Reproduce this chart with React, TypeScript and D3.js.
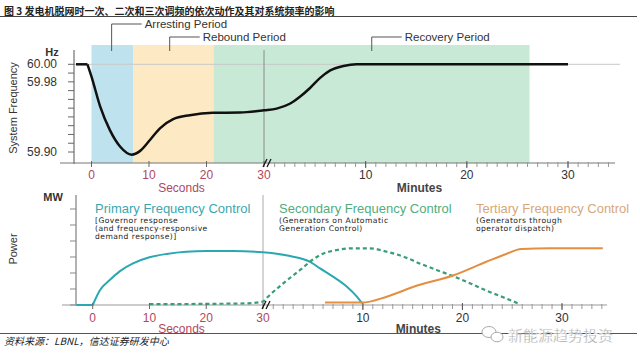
import * as d3 from "d3";

// ---- data ----
// frequency (Hz): seconds part then minutes part
const freqLead: [number, number][] = [[-2.7, 60], [-0.7, 60]];
const freqSec: [number, number][] = [
  [-0.7, 60], [0, 59.986], [1.5, 59.952], [3.2, 59.925], [5, 59.906], [7, 59.897],
  [8.4, 59.901], [10.2, 59.914], [11.9, 59.927], [14.2, 59.9375], [17.1, 59.942],
  [21.1, 59.9447], [25.8, 59.945], [30, 59.9475],
];
const freqMin: [number, number][] = [
  [1.2, 59.9495], [2.5, 59.955], [3.5, 59.963], [4.5, 59.973], [5.5, 59.9845],
  [6.5, 59.993], [7.8, 59.998], [9.1, 60], [30, 60],
];

// power (arbitrary MW units)
const primaryLead: [number, number][] = [[-2.9, 0], [0, 0]];
const primarySec: [number, number][] = [
  [0, 0], [1.3, 0.94], [3, 1.56], [4.8, 2.12], [7.1, 2.6], [10, 2.98], [13, 3.19],
  [16.5, 3.33], [20, 3.37], [24.7, 3.37], [30, 3.29],
];
const primaryMin: [number, number][] = [
  [2.7, 3.06], [4.7, 2.7], [5.7, 2.29], [7, 1.77], [8.4, 1.14], [9.4, 0.52], [9.9, 0.12],
];
const secondarySec: [number, number][] = [[10, 0.05], [20, 0.07], [27, 0.1], [30, 0.22]];
const secondaryMin: [number, number][] = [
  [0.3, 0.42], [2, 1.35], [3.7, 2.19], [5, 2.85], [5.7, 3.12], [7.4, 3.44], [9, 3.54],
  [10.7, 3.54], [12.4, 3.33], [14.1, 3.02], [15.7, 2.6], [17.4, 2.19], [19.2, 1.77],
  [20.8, 1.35], [22.4, 0.9], [24.1, 0.48], [25.8, 0.05],
];
const tertiaryMin: [number, number][] = [
  [6.2, 0.15], [9.9, 0.15], [12.4, 0.52], [15.1, 1.14], [19.2, 1.875], [22.4, 2.7],
  [24.4, 3.19], [25.9, 3.5], [28.8, 3.54], [34.1, 3.54],
];

// periods
const periodLabels = ["Arresting Period", "Rebound Period", "Recovery Period"];
const periodStart = [0, 7.3, 21.2];
const periodEnd = [7.3, 21.2, 26.2];
const periodEndUnit = ["s", "s", "m"];
const periodLeader = [3.5, 13.6, 10.6];
const periodLeaderUnit = ["s", "s", "m"];
const periodColors = ["#bfe3ee", "#fdeac4", "#c9e9d7"];

const secTicks = [0, 10, 20, 30];
const minTicks = [10, 20, 30];
const minMinor = d3.range(1, 35);
const freqTicks = d3.range(0, 11).map((i) => 59.9 + i * 0.01);
const freqLabels = [60.0, 59.98, 59.9];
const powerTicks = d3.range(0, 7);

const controls = [
  { title: "Primary Frequency Control", lines: ["[Governor response", "(and frequency-responsive", "demand response)]"], color: "#3aa7b0", x: 95 },
  { title: "Secondary Frequency Control", lines: ["(Generators on Automatic", "Generation Control)"], color: "#52ad7c", x: 279 },
  { title: "Tertiary Frequency Control", lines: ["(Generators through", "operator dispatch)"], color: "#d9a67c", x: 476 },
];

const FONT = "'Liberation Sans', Arial, sans-serif";
const CJK = "'Noto Sans CJK SC', sans-serif";
const SEC_RED = "#b0475e";

type Pt = [number, number];

export default function App() {
  // top panel scales
  const tSec = d3.scaleLinear().domain([0, 30]).range([91.5, 264]);
  const tMin = d3.scaleLinear().domain([0, 30]).range([264.5, 568]);
  const yF = d3.scaleLinear().domain([59.9, 60.0]).range([152, 64.3]);
  // bottom panel scales
  const bSec = d3.scaleLinear().domain([0, 30]).range([92.7, 263]);
  const bMin = d3.scaleLinear().domain([0, 30]).range([263.3, 562]);
  const yP = d3.scaleLinear().domain([0, 6]).range([305, 209]);

  const topAxisY = 163;
  const botAxisY = 305;

  const mkPath = (sx: d3.ScaleLinear<number, number>, mx: d3.ScaleLinear<number, number>, y: d3.ScaleLinear<number, number>, sec: Pt[], min: Pt[], curve: d3.CurveFactory = d3.curveMonotoneX) => {
    const pts: Pt[] = [
      ...sec.map((d) => [sx(d[0]), y(d[1])] as Pt),
      ...min.map((d) => [mx(d[0]), y(d[1])] as Pt),
    ];
    return d3.line().curve(curve)(pts) || "";
  };

  const freqPath = mkPath(tSec, tMin, yF, freqSec, freqMin);
  const freqLeadPath = mkPath(tSec, tMin, yF, freqLead, [], d3.curveLinear);
  const primPath = mkPath(bSec, bMin, yP, primarySec, primaryMin);
  const primLeadPath = mkPath(bSec, bMin, yP, primaryLead, [], d3.curveLinear);
  const secPath = mkPath(bSec, bMin, yP, secondarySec, secondaryMin);
  const terPath = mkPath(bSec, bMin, yP, [], tertiaryMin);

  const bandTop = 45;

  const axisTicks = (sx: d3.ScaleLinear<number, number>, mx: d3.ScaleLinear<number, number>, y: number, labelY: number, labelY2: number) => (
    <g>
      {secTicks.map((t) => (
        <g key={"s" + t}>
          <line x1={sx(t)} x2={sx(t)} y1={y - 2} y2={y + 4} stroke="#666" />
          <text x={sx(t)} y={labelY} textAnchor="middle" fontSize={12} fill={SEC_RED} fontFamily={FONT}>{t}</text>
        </g>
      ))}
      {minMinor.map((t) => (
        <line key={"mm" + t} x1={mx(t)} x2={mx(t)} y1={y - 1} y2={y + 4} stroke="#999" />
      ))}
      {minTicks.map((t) => (
        <g key={"m" + t}>
          <line x1={mx(t)} x2={mx(t)} y1={y - 2} y2={y + 5} stroke="#555" />
          <text x={mx(t)} y={labelY} textAnchor="middle" fontSize={12} fill="#333" fontFamily={FONT}>{t}</text>
        </g>
      ))}
      <text x={181.5} y={labelY2} textAnchor="middle" fontSize={12} fill={SEC_RED} fontFamily={FONT}>Seconds</text>
      <text x={mx(0) + 155} y={labelY2} textAnchor="middle" fontSize={12} fontWeight="bold" fill="#444" fontFamily={FONT}>Minutes</text>
      {[0, 4].map((o) => (
        <line key={o} x1={sx(30) + o - 1} y1={y + 4} x2={sx(30) + o + 3} y2={y - 4} stroke="#111" strokeWidth={1.3} />
      ))}
    </g>
  );

  return (
    <div style={{ position: "absolute", left: 0, top: 0 }}>
      <svg width={640} height={362} style={{ display: "block", background: "#fff" }}>
        {/* title */}
        <text x={4} y={14.5} fontSize={10} fontWeight={600} fill="#222" fontFamily={CJK}>
          图 3 发电机脱网时一次、二次和三次调频的依次动作及其对系统频率的影响
        </text>
        <line x1={0} x2={637} y1={16.5} y2={16.5} stroke="#444" strokeWidth={1} />

        {/* period bands */}
        {periodLabels.map((p, i) => {
          const x0 = tSec(periodStart[i]);
          const x1 = periodEndUnit[i] === "s" ? tSec(periodEnd[i]) : tMin(periodEnd[i]);
          return <rect key={p} x={x0} y={bandTop} width={x1 - x0} height={topAxisY - bandTop} fill={periodColors[i]} />;
        })}
        {periodLabels.map((p, i) => {
          const lx = periodLeaderUnit[i] === "s" ? tSec(periodLeader[i]) : tMin(periodLeader[i]);
          const ly = i === 0 ? 24 : 37;
          return (
            <g key={"l" + p}>
              <polyline points={`${lx},51 ${lx},${ly} ${lx + 30},${ly}`} fill="none" stroke="#555" strokeWidth={1} />
              <text x={lx + 33} y={ly + 4} fontSize={11.5} fill="#333" fontFamily={FONT}>{p}</text>
            </g>
          );
        })}

        {/* top panel axes */}
        <line x1={74} x2={620} y1={yF(60)} y2={yF(60)} stroke="#c8c8c8" />
        <line x1={tSec(30)} x2={tSec(30)} y1={50} y2={topAxisY} stroke="#8a8a8a" />
        <line x1={74} x2={74} y1={50} y2={topAxisY + 1} stroke="#555" />
        <line x1={60} x2={615} y1={topAxisY} y2={topAxisY} stroke="#777" />
        {freqTicks.map((t, i) => (
          <line key={i} x1={68} x2={74} y1={yF(t)} y2={yF(t)} stroke="#666" />
        ))}
        {freqLabels.map((t) => (
          <text key={t} x={57} y={yF(t) + 4} textAnchor="end" fontSize={12} fill="#333" fontFamily={FONT}>{t.toFixed(2)}</text>
        ))}
        <text x={52} y={56} textAnchor="middle" fontSize={11} fontWeight="bold" fill="#333" fontFamily={FONT}>Hz</text>
        <text transform="translate(17,108) rotate(-90)" textAnchor="middle" fontSize={11} fill="#333" fontFamily="'Liberation Sans Narrow', 'Liberation Sans', sans-serif">System Frequency</text>
        {axisTicks(tSec, tMin, topAxisY, 178.5, 192)}

        {/* frequency curve */}
        <path d={freqLeadPath} fill="none" stroke="#111" strokeWidth={2.5} />
        <path d={freqPath} fill="none" stroke="#111" strokeWidth={2.5} />

        {/* bottom panel */}
        <line x1={bSec(30)} x2={bSec(30)} y1={195} y2={botAxisY} stroke="#aaa" />
        <line x1={76} x2={76} y1={195} y2={botAxisY} stroke="#666" />
        <line x1={62} x2={607} y1={botAxisY} y2={botAxisY} stroke="#999" />
        {powerTicks.map((t) => (
          <line key={t} x1={70} x2={76} y1={yP(t)} y2={yP(t)} stroke="#888" />
        ))}
        <text x={53} y={201} textAnchor="middle" fontSize={11} fontWeight="bold" fill="#333" fontFamily={FONT}>MW</text>
        <text transform="translate(17,249) rotate(-90)" textAnchor="middle" fontSize={11} fill="#333" fontFamily="'Liberation Sans Narrow', 'Liberation Sans', sans-serif">Power</text>

        {controls.map((c) => (
          <g key={c.title}>
            <text x={c.x} y={213} fontSize={13} fill={c.color} fontFamily={FONT}>{c.title}</text>
            {c.lines.map((l, j) => (
              <text key={j} x={c.x} y={222.5 + j * 8} fontSize={7.6} fill="#222" fontFamily="'DejaVu Sans', sans-serif" letterSpacing={0.45}>{l}</text>
            ))}
          </g>
        ))}

        <path d={primLeadPath} fill="none" stroke="#2aa8b2" strokeWidth={2} />
        <path d={primPath} fill="none" stroke="#2aa8b2" strokeWidth={2} />
        <path d={secPath} fill="none" stroke="#3b9c78" strokeWidth={2.2} strokeDasharray="4,3" />
        <path d={terPath} fill="none" stroke="#e48e42" strokeWidth={2} />
        {axisTicks(bSec, bMin, botAxisY, 322, 333)}

        {/* footer */}
        <line x1={0} x2={637} y1={333.5} y2={333.5} stroke="#555" />
        <text x={4} y={344.5} fontSize={10} fontStyle="italic" fill="#222" fontFamily={CJK}>资料来源：LBNL，信达证券研发中心</text>
        <g stroke="#aaa" fill="#fff" strokeWidth={1}>
          <ellipse cx={489} cy={332} rx={7} ry={5.5} />
          <ellipse cx={497} cy={337} rx={6} ry={4.8} />
        </g>
        <text x={508} y={341} fontSize={15} fill="#9a9a9a" stroke="#fff" strokeWidth={0.4} fontFamily={CJK}>新能源趋势投资</text>
      </svg>
    </div>
  );
}
